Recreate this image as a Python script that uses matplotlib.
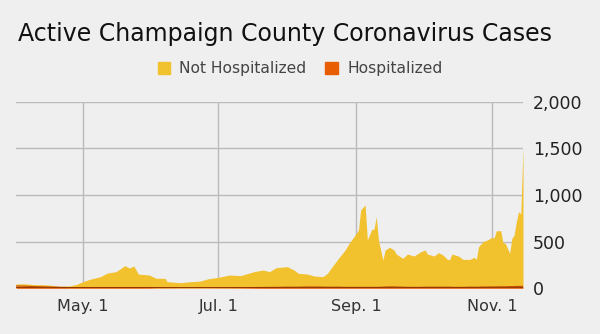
import pandas as pd
import matplotlib
matplotlib.use("Agg")
import matplotlib.pyplot as plt
import matplotlib.dates as mdates
from matplotlib.ticker import FuncFormatter

# values (total active cases and the hospitalized part)
dates = [
    "2020-04-01", "2020-04-05", "2020-04-09", "2020-04-14", "2020-04-18", "2020-04-21",
    "2020-04-25", "2020-04-28", "2020-05-01", "2020-05-04", "2020-05-09", "2020-05-12",
    "2020-05-16", "2020-05-20", "2020-05-22", "2020-05-24", "2020-05-26", "2020-05-31",
    "2020-06-03", "2020-06-07", "2020-06-08", "2020-06-14", "2020-06-18", "2020-06-23",
    "2020-06-26", "2020-07-01", "2020-07-06", "2020-07-11", "2020-07-17", "2020-07-21",
    "2020-07-24", "2020-07-27", "2020-08-01", "2020-08-04", "2020-08-06", "2020-08-10",
    "2020-08-13", "2020-08-17", "2020-08-19", "2020-08-21", "2020-08-24", "2020-08-27",
    "2020-08-29", "2020-08-31", "2020-09-02", "2020-09-03", "2020-09-05", "2020-09-06",
    "2020-09-08", "2020-09-09", "2020-09-10", "2020-09-11", "2020-09-13", "2020-09-14",
    "2020-09-16", "2020-09-18", "2020-09-19", "2020-09-22", "2020-09-24", "2020-09-27",
    "2020-09-30", "2020-10-02", "2020-10-03", "2020-10-06", "2020-10-08", "2020-10-10",
    "2020-10-12", "2020-10-13", "2020-10-14", "2020-10-17", "2020-10-19", "2020-10-22",
    "2020-10-24", "2020-10-25", "2020-10-26", "2020-10-28", "2020-10-30", "2020-11-01",
    "2020-11-02", "2020-11-03", "2020-11-05", "2020-11-06", "2020-11-07", "2020-11-09",
    "2020-11-10", "2020-11-11", "2020-11-12", "2020-11-13", "2020-11-14", "2020-11-15",
]
total_active = [
    46, 48, 40, 38, 30, 22,
    25, 40, 70, 95, 125, 163,
    178, 243, 217, 239, 153, 142,
    107, 107, 71, 60, 70, 78,
    100, 118, 142, 136, 178, 196,
    178, 221, 232, 196, 160, 153,
    132, 125, 160, 225, 321, 410,
    489, 553, 625, 839, 893, 518,
    632, 632, 768, 518, 303, 410,
    439, 410, 367, 321, 367, 346,
    392, 410, 367, 346, 382, 357,
    310, 307, 367, 346, 310, 310,
    332, 310, 446, 500, 518, 546,
    541, 617, 617, 489, 483, 375,
    536, 571, 714, 821, 796, 1510,
]
hospitalized = [
    25, 22, 18, 15, 12, 10,
    8, 8, 8, 8, 8, 8,
    8, 8, 8, 8, 8, 8,
    6, 6, 6, 5, 5, 5,
    5, 6, 6, 7, 8, 9,
    10, 10, 12, 12, 12, 14,
    14, 13, 12, 12, 12, 10,
    10, 10, 10, 10, 10, 10,
    10, 10, 10, 10, 12, 14,
    15, 15, 14, 12, 10, 10,
    10, 12, 12, 12, 12, 12,
    12, 12, 10, 10, 10, 12,
    12, 12, 12, 14, 14, 15,
    15, 15, 16, 16, 16, 18,
    18, 18, 20, 20, 20, 22,
]

x = pd.to_datetime(dates)

yellow = "#f2c12e"
orange = "#e85d04"
bg = "#efefef"

fig = plt.figure(figsize=(6, 3.34), dpi=100, facecolor=bg)
ax = fig.add_axes([16 / 600, 1 - 288.3 / 334, (523 - 16) / 600, (288.3 - 101.7) / 334])
ax.set_facecolor(bg)

ax.fill_between(x, 0, hospitalized, color=orange, lw=0, zorder=3)
ax.fill_between(x, hospitalized, total_active, color=yellow, lw=0, zorder=3)
ax.plot(x, hospitalized, color="#c44a00", lw=0.8, zorder=4)
ax.axhline(0, color="#8a3300", lw=1.2, zorder=5)

ax.set_ylim(0, 2000)
ax.set_xlim(pd.Timestamp("2020-04-01"), pd.Timestamp("2020-11-15"))
ax.set_yticks([0, 500, 1000, 1500, 2000])
ax.yaxis.set_major_formatter(FuncFormatter(lambda v, p: f"{int(v):,}"))
ax.yaxis.tick_right()
ax.set_xticks(pd.to_datetime(["2020-05-01", "2020-07-01", "2020-09-01", "2020-11-01"]))
ax.xaxis.set_major_formatter(mdates.DateFormatter("%b. %-d"))
ax.tick_params(axis="y", length=0, pad=7, labelsize=12.5, labelcolor="#222222")
ax.tick_params(axis="x", length=0, pad=8, labelsize=11.5, labelcolor="#333333")
ax.grid(True, color="#bbbbbb", lw=1, zorder=0)
for s in ax.spines.values():
    s.set_visible(False)

fig.text(18 / 600, 1 - 34 / 334, "Active Champaign County Coronavirus Cases",
         fontsize=17, color="#111111", va="center", ha="left")

# legend
handles = [plt.Rectangle((0, 0), 1, 1, color=yellow), plt.Rectangle((0, 0), 1, 1, color=orange)]
fig.legend(handles, ["Not Hospitalized", "Hospitalized"], loc="center",
           bbox_to_anchor=(0.5, 1 - 69 / 334), ncol=2, frameon=False,
           fontsize=11.2, labelcolor="#444444", handlelength=0.8, handleheight=0.8,
           handletextpad=0.6, columnspacing=1.2)

fig.savefig("out.png", dpi=100, facecolor=bg)
